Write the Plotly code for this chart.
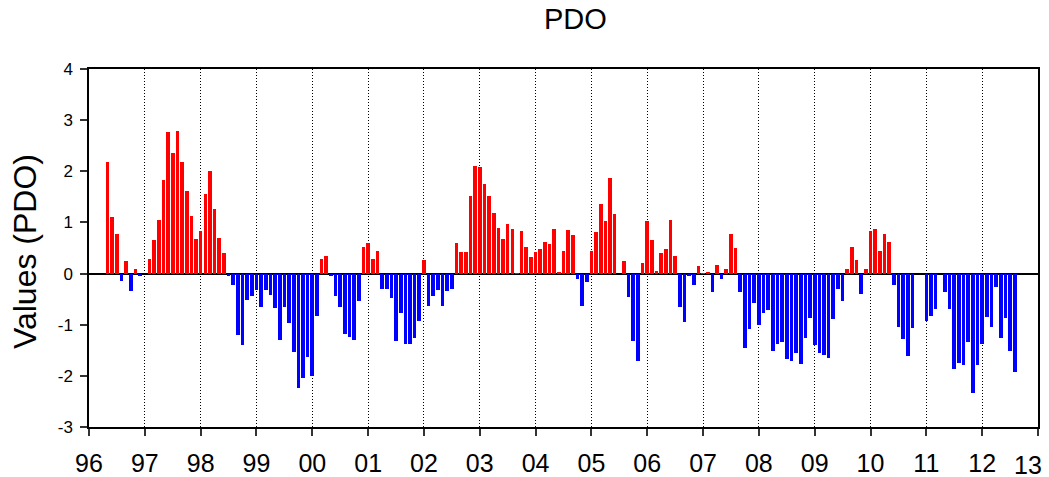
import plotly.graph_objects as go

# Monthly PDO index values, starting May 1996 (None = no bar drawn)
start_year = 1996
start_month = 5
pdo_1996 = [2.19, 1.10, 0.78, -0.15, 0.24, -0.34, 0.09, -0.04]  # May-Dec
pdo_1997 = [None, 0.28, 0.65, 1.05, 1.83, 2.76, 2.35, 2.79, 2.19, 1.61, 1.12, 0.67]
pdo_1998 = [0.83, 1.56, 2.01, 1.27, 0.70, 0.40, -0.04, -0.22, -1.21, -1.39, -0.52, -0.44]
pdo_1999 = [-0.32, -0.66, -0.33, -0.41, -0.68, -1.30, -0.66, -0.96, -1.53, -2.23, -2.05, -1.63]
pdo_2000 = [-2.00, -0.83, 0.29, 0.35, -0.05, -0.44, -0.66, -1.19, -1.24, -1.30, -0.53, 0.52]
pdo_2001 = [0.60, 0.29, 0.45, -0.31, -0.30, -0.47, -1.31, -0.77, -1.37, -1.37, -1.26, -0.93]
pdo_2002 = [0.27, -0.64, -0.43, -0.32, -0.63, -0.35, -0.31, 0.60, 0.43, 0.42, 1.51, 2.10]
pdo_2003 = [2.09, 1.75, 1.51, 1.18, 0.89, 0.68, 0.96, 0.88, 0.01, 0.83, 0.52, 0.33]
pdo_2004 = [0.43, 0.48, 0.61, 0.57, 0.88, 0.04, 0.44, 0.85, 0.75, -0.11, -0.63, -0.17]
pdo_2005 = [0.44, 0.81, 1.36, 1.03, 1.86, 1.17, None, 0.25, -0.46, -1.32, -1.71, 0.20]
pdo_2006 = [1.03, 0.66, 0.05, 0.40, 0.48, 1.04, 0.35, -0.65, -0.94, -0.05, -0.22, 0.14]
pdo_2007 = [0.01, 0.04, -0.36, 0.16, -0.10, 0.09, 0.78, 0.50, -0.36, -1.45, -1.08, -0.58]
pdo_2008 = [-1.00, -0.77, -0.71, -1.52, -1.37, -1.34, -1.67, -1.70, -1.55, -1.76, -1.25, -0.87]
pdo_2009 = [-1.40, -1.55, -1.59, -1.65, -0.88, -0.31, -0.53, 0.09, 0.52, 0.27, -0.40, 0.08]
pdo_2010 = [0.83, 0.88, 0.44, 0.78, 0.62, -0.22, -1.05, -1.27, -1.61, -1.06, None, None]
pdo_2011 = [-0.92, -0.83, -0.69, None, -0.37, -0.69, -1.86, -1.74, -1.79, -1.34, -2.33, -1.79]
pdo_2012 = [-1.38, -0.85, -1.05, -0.27, -1.26, -0.87, -1.52, -1.93]  # Jan-Aug

tick_years = list(range(1996, 2014))
tick_labels = ["96", "97", "98", "99", "00", "01", "02", "03", "04", "05",
               "06", "07", "08", "09", "10", "11", "12", "13"]
y_ticks = [-3, -2, -1, 0, 1, 2, 3, 4]

values = (pdo_1996 + pdo_1997 + pdo_1998 + pdo_1999 + pdo_2000 + pdo_2001 +
          pdo_2002 + pdo_2003 + pdo_2004 + pdo_2005 + pdo_2006 + pdo_2007 +
          pdo_2008 + pdo_2009 + pdo_2010 + pdo_2011 + pdo_2012)

x = [start_year + (start_month - 1 + i) / 12.0 for i in range(len(values))]
colors = ["#FF0000" if (v is not None and v >= 0) else "#0000FF" for v in values]

fig = go.Figure()
fig.add_trace(go.Bar(
    x=x, y=values, width=0.065,
    marker=dict(color=colors, line=dict(width=0)),
    showlegend=False,
))

font_family = "Liberation Sans, Arial, sans-serif"

W, H = 1049, 477

fig.update_layout(
    template="none",
    width=W, height=H,
    margin=dict(l=89, r=11, t=69, b=50, autoexpand=False),
    paper_bgcolor="white", plot_bgcolor="white",
    font=dict(family=font_family, color="black"),
    title=dict(text="PDO", x=0.5125, xref="paper", xanchor="center",
               y=1 - 19 / H, yref="container", yanchor="middle",
               font=dict(size=29, family=font_family, color="black")),
    bargap=0,
)

# last label ("13") sits at the right edge; draw it nudged inward so it stays visible
axis_ticktext = tick_labels[:-1] + [""]

fig.update_xaxes(
    range=[1995.9995, 2013.0005], automargin=False,
    tickmode="array", tickvals=tick_years, ticktext=axis_ticktext,
    tickfont=dict(size=25, family=font_family, color="black"),
    ticks="outside", ticklen=7, tickwidth=1.5, tickcolor="#333",
    showline=True, linecolor="black", linewidth=1.5, mirror=True,
    showgrid=True, gridcolor="black", griddash="1px,2px", gridwidth=1,
    zeroline=False,
    ticklabelstandoff=6,
)
fig.update_yaxes(
    range=[-3, 4], automargin=False,
    tickmode="array", tickvals=y_ticks, ticktext=[str(t) for t in y_ticks],
    tickfont=dict(size=17, family=font_family, color="black"),
    ticks="outside", ticklen=7, tickwidth=1.5, tickcolor="#333",
    showline=True, linecolor="black", linewidth=1.5, mirror=True,
    showgrid=False,
    zeroline=True, zerolinecolor="black", zerolinewidth=1.5,
    ticklabelstandoff=4,
)

fig.add_annotation(
    text=tick_labels[-1],
    xref="paper", yref="paper",
    x=(1044 - 89) / 949, y=-(465 - 427) / 358,
    xanchor="right", yanchor="middle", showarrow=False,
    font=dict(size=25, family=font_family, color="black"),
)

fig.add_annotation(
    text="Values (PDO)", textangle=-90,
    xref="paper", yref="paper",
    x=(25 - 89) / 949, y=(427 - 252) / 358,
    xanchor="center", yanchor="middle", showarrow=False,
    font=dict(size=32, family=font_family, color="black"),
)

fig.write_html(
    "out.html",
    config={"displayModeBar": False},
    post_script="document.body.style.margin='0';document.body.style.overflow='hidden';",
)
